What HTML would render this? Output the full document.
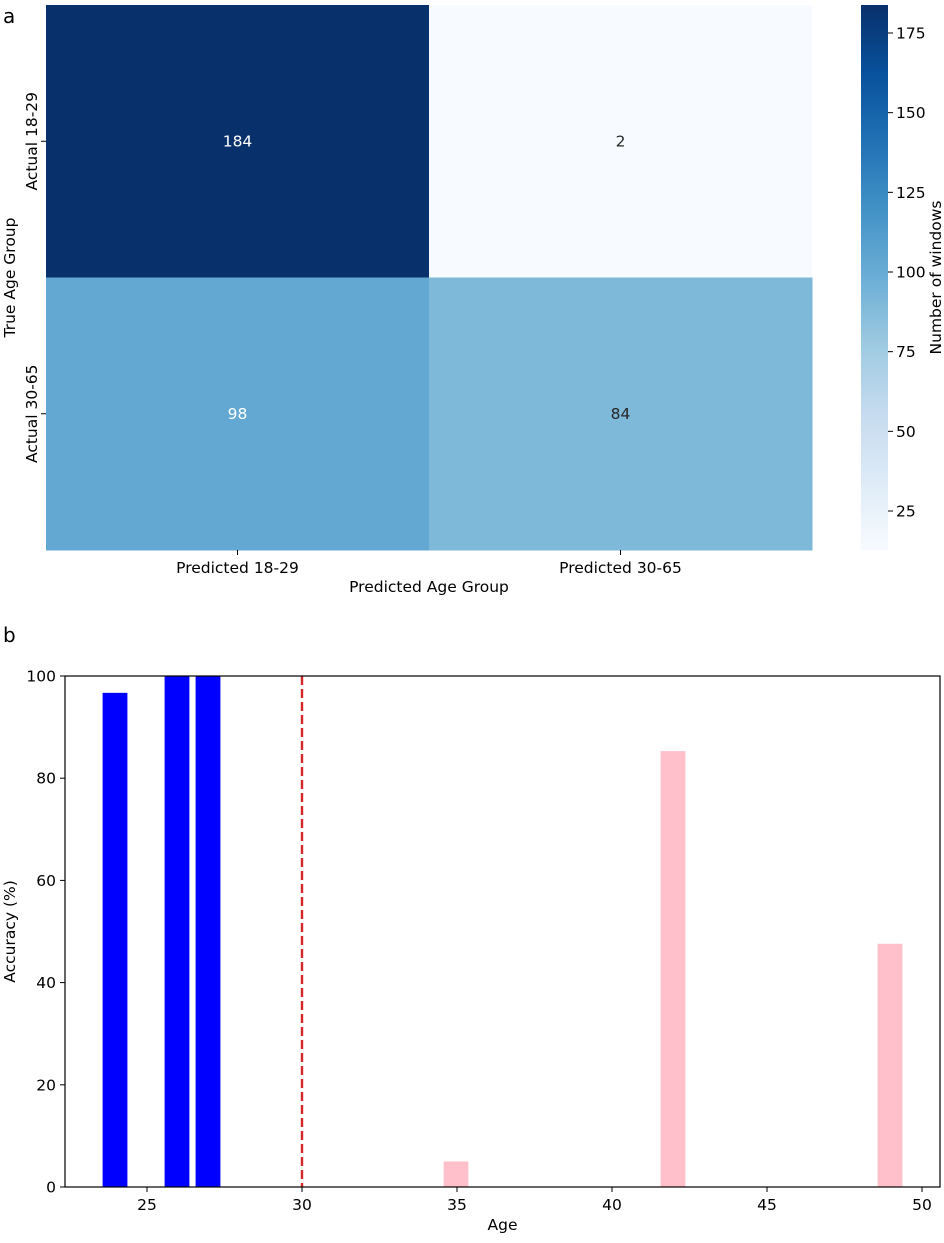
<!DOCTYPE html>
<html><head><meta charset="utf-8"><style>
body{margin:0;background:#fff;font-family:"Liberation Sans","DejaVu Sans",sans-serif;}
svg text{font-family:"DejaVu Sans","Liberation Sans",sans-serif;}
</style></head><body>
<svg id="fig" width="944" height="1238" viewBox="0 0 944 1238" xmlns="http://www.w3.org/2000/svg">
<defs>
<linearGradient id="blues" x1="0" y1="1" x2="0" y2="0">
<stop offset="0" stop-color="#f7fbff"/><stop offset="0.125" stop-color="#deebf7"/>
<stop offset="0.25" stop-color="#c6dbef"/><stop offset="0.375" stop-color="#9ecae1"/>
<stop offset="0.5" stop-color="#6baed6"/><stop offset="0.625" stop-color="#4292c6"/>
<stop offset="0.75" stop-color="#2171b5"/><stop offset="0.875" stop-color="#08519c"/>
<stop offset="1" stop-color="#08306b"/></linearGradient>
</defs>
<g id="a"></g><g id="b"></g>
</svg>
<script>
const rowLabels=["Actual 18-29","Actual 30-65"];
const colLabels=["Predicted 18-29","Predicted 30-65"];
const cm=[[184,2],[98,84]];
const cbTicks=[25,50,75,100,125,150,175];
const ages=[24,26,27,35,42,49];
const acc=[96.7,100,100,5,85.3,47.6];
const barColors=["#0000ff","#0000ff","#0000ff","#ffc0cb","#ffc0cb","#ffc0cb"];
const xTicks=[25,30,35,40,45,50];
const yTicks=[0,20,40,60,80,100];
const threshold=30;

const NS="http://www.w3.org/2000/svg";
const FS=15.5;
function mk(p,t,a,txt){const e=document.createElementNS(NS,t);for(const k in a)e.setAttribute(k,a[k]);if(txt!==undefined)e.textContent=txt;p.appendChild(e);return e;}
const stops=[[0,[247,251,255]],[.125,[222,235,247]],[.25,[198,219,239]],[.375,[158,202,225]],[.5,[107,174,214]],[.625,[66,146,198]],[.75,[33,113,181]],[.875,[8,81,156]],[1,[8,48,107]]];
function blues(t){t=Math.max(0,Math.min(1,t));for(let i=1;i<stops.length;i++){if(t<=stops[i][0]){const a=stops[i-1],b=stops[i],f=(t-a[0])/(b[0]-a[0]);return "rgb("+a[1].map((v,j)=>Math.round(v+(b[1][j]-v)*f)).join(",")+")";}}return "rgb(8,48,107)";}
// panel a
const A=document.getElementById('a');
const hx0=46,hx1=812,hy0=5,hy1=550;
const vmin=Math.min(...cm.flat()),vmax=Math.max(...cm.flat());
const cw=(hx1-hx0)/colLabels.length,ch=(hy1-hy0)/rowLabels.length;
let e=mk(A,'text',{x:3,y:23,'font-size':20},'a');

cm.forEach((row,i)=>row.forEach((v,j)=>{
 const t=(v-vmin)/(vmax-vmin);
 let r=mk(A,'rect',{x:hx0+j*cw,y:hy0+i*ch,width:cw+0.5,height:ch+0.5,fill:blues(t)});
 
 let tx=mk(A,'text',{x:hx0+(j+.5)*cw,y:hy0+(i+.5)*ch+5,'text-anchor':'middle','font-size':FS,fill:t>0.5?'#fff':'#262626'},v);
 
}));
rowLabels.forEach((l,i)=>{const y=hy0+(i+.5)*ch;
 mk(A,'line',{x1:hx0-5,x2:hx0,y1:y,y2:y,stroke:'#000'});
 let t=mk(A,'text',{x:0,y:0,transform:`translate(37,${y}) rotate(-90)`,'text-anchor':'middle','font-size':FS},l);
 });
colLabels.forEach((l,j)=>{const x=hx0+(j+.5)*cw;
 mk(A,'line',{x1:x,x2:x,y1:hy1,y2:hy1+5,stroke:'#000'});
 let t=mk(A,'text',{x:x,y:hy1+23,'text-anchor':'middle','font-size':FS},l);
 });
e=mk(A,'text',{x:(hx0+hx1)/2,y:592,'text-anchor':'middle','font-size':FS},'Predicted Age Group');

e=mk(A,'text',{x:0,y:0,transform:`translate(15,${(hy0+hy1)/2}) rotate(-90)`,'text-anchor':'middle','font-size':FS},'True Age Group');

const cbx=861,cbw=27;
// colorbar scale calibrated to reference tick placement
const cbScale=v=>511-(v-25)*(478/150);
e=mk(A,'rect',{x:cbx,y:hy0,width:cbw,height:hy1-hy0,fill:'url(#blues)'});

cbTicks.forEach(v=>{const y=cbScale(v);
 mk(A,'line',{x1:cbx+cbw,x2:cbx+cbw+5,y1:y,y2:y,stroke:'#000'});
 let t=mk(A,'text',{x:cbx+cbw+8,y:y+5.5,'font-size':FS},v);
 });
e=mk(A,'text',{x:0,y:0,transform:`translate(941,${(hy0+hy1)/2}) rotate(-90)`,'text-anchor':'middle','font-size':FS},'Number of windows');

// panel b
const B=document.getElementById('b');
const px0=65,px1=940,py0=676,py1=1187;
const xs=v=>147+(v-25)*31, ys=v=>py1-(v/100)*(py1-py0);
e=mk(B,'text',{x:3,y:642,'font-size':20},'b');

ages.forEach((a,i)=>{const w=0.8*31;
 let r=mk(B,'rect',{x:xs(a)-w/2-1,y:ys(acc[i]),width:w,height:py1-ys(acc[i]),fill:barColors[i]});
 });
e=mk(B,'line',{x1:xs(threshold),x2:xs(threshold),y1:py0,y2:py1,stroke:'#d62728','stroke-width':2.4,'stroke-dasharray':'9,4'});

e=mk(B,'rect',{x:px0,y:py0,width:px1-px0,height:py1-py0,fill:'none',stroke:'#000','stroke-width':1.2});

xTicks.forEach(v=>{const x=xs(v);mk(B,'line',{x1:x,x2:x,y1:py1,y2:py1+5,stroke:'#000'});
 let t=mk(B,'text',{x:x,y:py1+23,'text-anchor':'middle','font-size':FS},v);
 });
yTicks.forEach(v=>{const y=ys(v);mk(B,'line',{x1:px0-5,x2:px0,y1:y,y2:y,stroke:'#000'});
 let t=mk(B,'text',{x:px0-9,y:y+5.5,'text-anchor':'end','font-size':FS},v);
 });
e=mk(B,'text',{x:(px0+px1)/2,y:1230,'text-anchor':'middle','font-size':FS},'Age');

e=mk(B,'text',{x:0,y:0,transform:`translate(15,${(py0+py1)/2}) rotate(-90)`,'text-anchor':'middle','font-size':FS},'Accuracy (%)');

</script>
</body></html>
